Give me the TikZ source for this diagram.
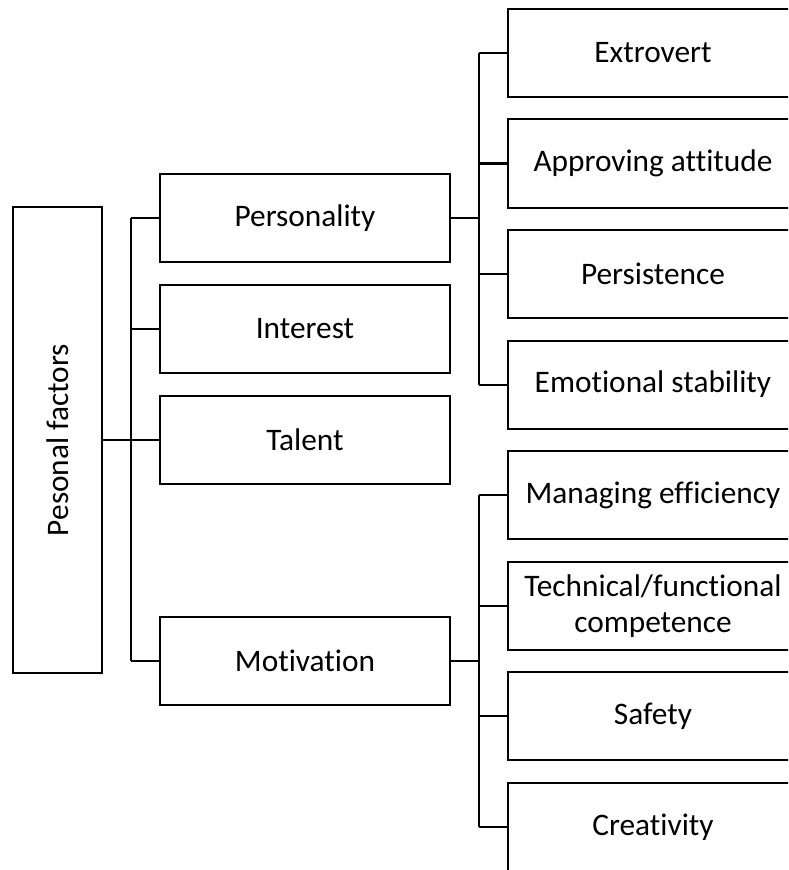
\documentclass[tikz,border=0pt]{standalone}
\usepackage{fontspec}
\setmainfont{Carlito}[Ligatures=NoCommon]
\usetikzlibrary{positioning}

\begin{document}
\begin{tikzpicture}[x=0.75pt, y=-0.75pt, line width=1.5pt,
  factor/.style={draw, line width=1.5pt, minimum width=217.5pt, minimum height=66pt,
                 inner sep=2pt, align=center, font=\fontsize{23.5}{26.5}\selectfont},
  root/.style={draw, line width=1.5pt, rotate=90, minimum width=349.5pt, minimum height=66.75pt,
               inner sep=2pt, font=\fontsize{23.5}{26.5}\selectfont},
]
\useasboundingbox (0,0) rectangle (788,870);
\clip (0,0) rectangle (788,870);

% Root
\node[root] (pf) at (57.5, 440) {Pesonal factors};

% Factors
\node[factor] (pers)   at (305, 218) {Personality};
\node[factor] (inter)  at (305, 329) {Interest};
\node[factor] (talent) at (305, 440) {Talent};
\node[factor] (motiv)  at (305, 661) {Motivation};

% Personality traits
\node[factor] (extro)  at (653, 53)    {Extrovert};
\node[factor] (approv) at (653, 163.5) {Approving attitude};
\node[factor] (persis) at (653, 274)   {Persistence};
\node[factor] (emot)   at (653, 384.5) {Emotional stability};

% Motivation types
\node[factor] (manag)  at (653, 495) {Managing efficiency};
\node[factor] (techn)  at (653, 606) {Technical/functional\\competence};
\node[factor] (safe)   at (653, 716) {Safety};
\node[factor] (creat)  at (653, 827) {Creativity};

% Junctions
\coordinate (jroot) at (131, 440);
\coordinate (jpers) at (479, 218);
\coordinate (jmotiv) at (479, 661);

% Root to factors
\draw (pf.south) -- (jroot);
\draw (jroot |- pers.west) -- (jroot |- motiv.west);
\foreach \n in {pers, inter, talent, motiv}
  \draw (jroot |- \n.west) -- (\n.west);

% Personality to traits
\draw (pers.east) -- (jpers);
\draw (jpers |- extro.west) -- (jpers |- emot.west);
\foreach \n in {extro, approv, persis, emot}
  \draw (jpers |- \n.west) -- (\n.west);

% Motivation to types
\draw (motiv.east) -- (jmotiv);
\draw (jmotiv |- manag.west) -- (jmotiv |- creat.west);
\foreach \n in {manag, techn, safe, creat}
  \draw (jmotiv |- \n.west) -- (\n.west);
\end{tikzpicture}
\end{document}
